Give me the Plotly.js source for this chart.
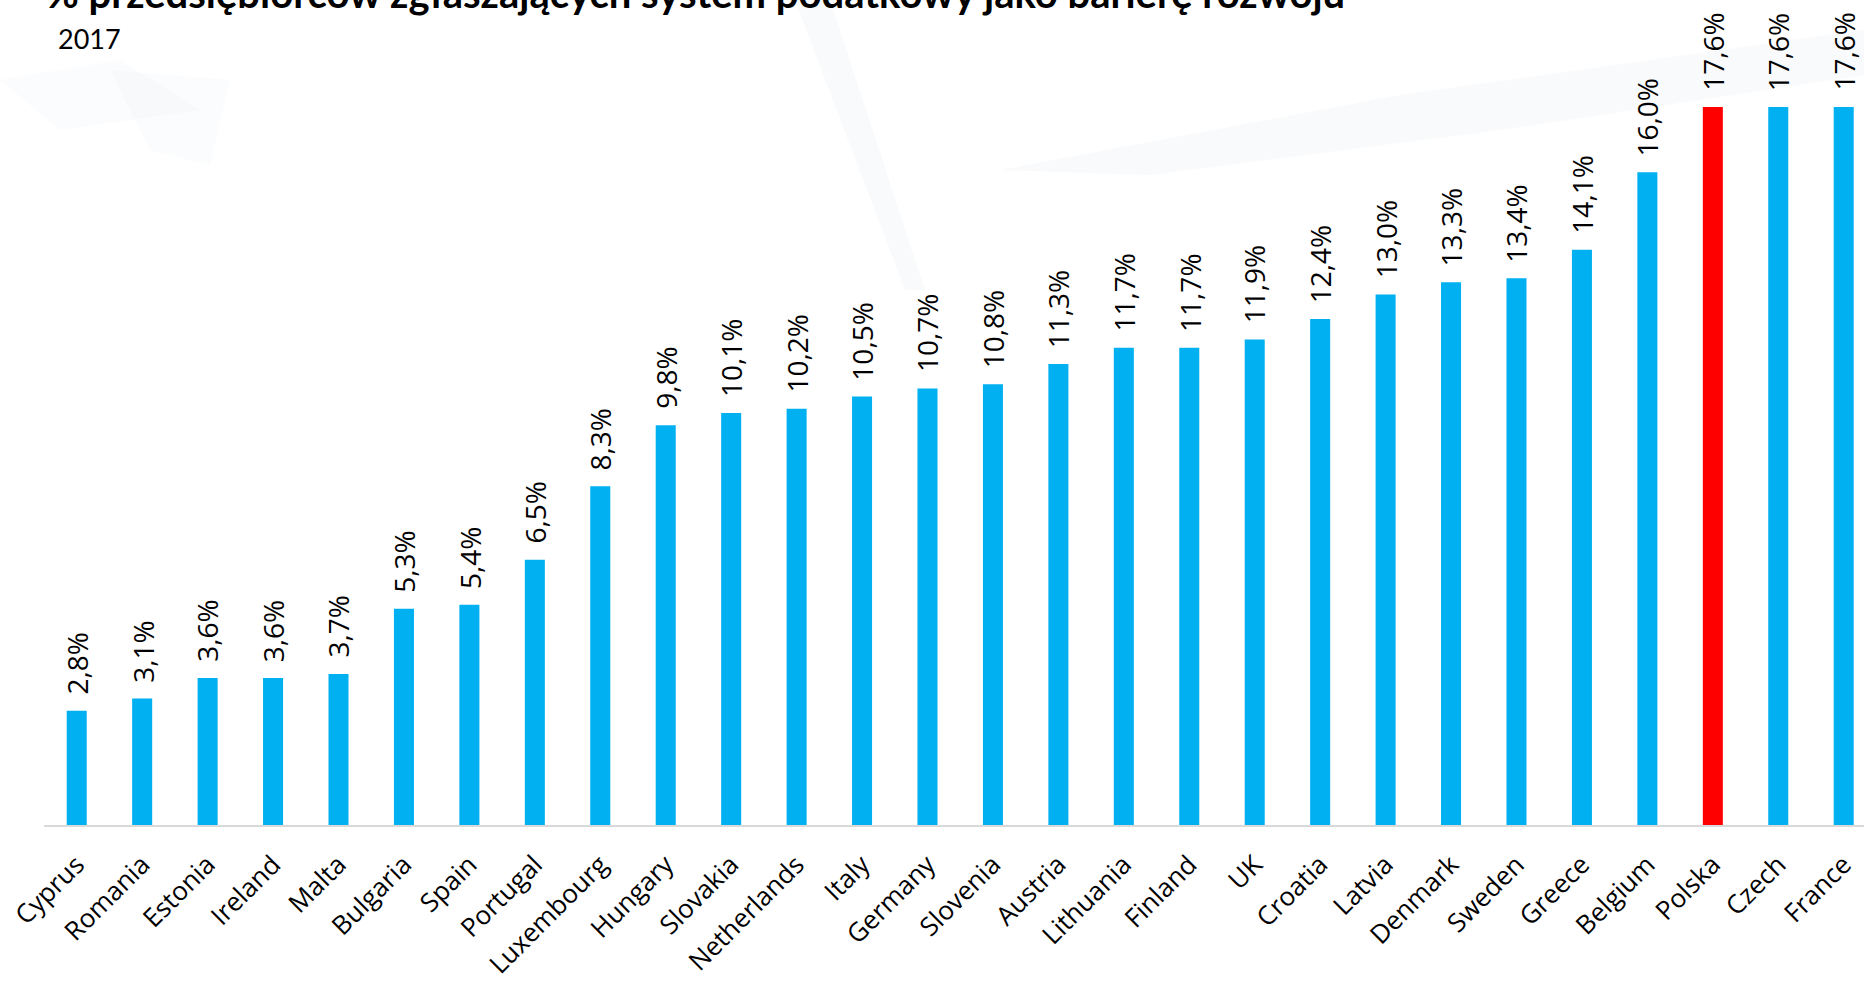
<!DOCTYPE html>
<html>
<head>
<meta charset="utf-8">
<script src="https://cdn.plot.ly/plotly-3.0.1.min.js"></script>
<style>
html,body{margin:0;padding:0;background:#ffffff;}
#chart{width:1864px;height:982px;}
</style>
</head>
<body>
<div id="chart"></div>
<script>
const categories = ['Cyprus','Romania','Estonia','Ireland','Malta','Bulgaria','Spain','Portugal','Luxembourg','Hungary','Slovakia','Netherlands','Italy','Germany','Slovenia','Austria','Lithuania','Finland','UK','Croatia','Latvia','Denmark','Sweden','Greece','Belgium','Polska','Czech','France'];
const values = [2.8,3.1,3.6,3.6,3.7,5.3,5.4,6.5,8.3,9.8,10.1,10.2,10.5,10.7,10.8,11.3,11.7,11.7,11.9,12.4,13.0,13.3,13.4,14.1,16.0,17.6,17.6,17.6];
const highlighted = ['Polska'];
const titleText = '% przedsiębiorców zgłaszających system podatkowy jako barierę rozwoju';
const subtitleText = '2017';

const W = 1864, H = 982, ML = 44, MB = 157;
const PW = W - ML, PH = H - MB;
function px(x){ return (x - ML) / PW; }
function py(y){ return (PH - y) / PH; }
function path(pts){ return 'M' + pts.map(p => px(p[0]).toFixed(4) + ',' + py(p[1]).toFixed(4)).join(' L') + ' Z'; }

const barColors = categories.map(c => highlighted.includes(c) ? '#FF0000' : '#00B0F0');

const trace = {
  type: 'bar',
  x: categories,
  y: values,
  width: 0.306,
  marker: {color: barColors, line: {width: 0}},
  hoverinfo: 'x+y'
};

const labelAnnotations = categories.map((c, i) => ({
  x: c, y: values[i], xref: 'x', yref: 'y',
  text: values[i].toFixed(1).replace('.', ',') + '%',
  textangle: -90, showarrow: false,
  xanchor: 'center', yanchor: 'bottom', yshift: 14,
  font: {family: 'Open Sans', size: 28, color: '#000000'}
}));

const faint = 'rgba(225,234,241,0.22)';
const fainter = 'rgba(225,234,241,0.14)';
const shapes = [
  {type:'path', xref:'paper', yref:'paper', layer:'below', line:{width:0}, fillcolor:faint,
   path: path([[1000,170],[1400,95],[1864,30],[1864,75],[1500,130],[1150,175]])},
  {type:'path', xref:'paper', yref:'paper', layer:'below', line:{width:0}, fillcolor:faint,
   path: path([[795,0],[830,0],[925,290],[905,290]])},
  {type:'path', xref:'paper', yref:'paper', layer:'below', line:{width:0}, fillcolor:fainter,
   path: path([[110,70],[230,80],[210,165],[150,150]])},
  {type:'path', xref:'paper', yref:'paper', layer:'below', line:{width:0}, fillcolor:fainter,
   path: path([[0,80],[120,60],[200,110],[60,130]])}
];

const layout = {
  width: W, height: H,
  margin: {l: ML, r: 0, t: 0, b: MB, pad: 0},
  paper_bgcolor: '#ffffff',
  plot_bgcolor: 'rgba(0,0,0,0)',
  showlegend: false,
  bargap: 0.7,
  xaxis: {
    type: 'category',
    range: [-0.5, 27.31],
    showgrid: false, zeroline: false,
    showline: true, linecolor: '#d9d9d9', linewidth: 2,
    ticks: '', tickangle: -45, ticklabelstandoff: 12,
    tickfont: {family: 'Open Sans', size: 26, color: '#000000'},
    fixedrange: true
  },
  yaxis: {
    range: [0, 20.22],
    visible: false, showgrid: false, zeroline: false,
    fixedrange: true
  },
  shapes: shapes,
  annotations: labelAnnotations.concat([
    {xref:'paper', yref:'paper', x: 0, y: 1, xanchor:'left', yanchor:'bottom',
     xshift: 0, yshift: -19, showarrow:false, text: '<b>' + titleText + '</b>',
     font:{family:'Lato', size:40, color:'#000000'}},
    {xref:'paper', yref:'paper', x: 0, y: 1, xanchor:'left', yanchor:'top',
     xshift: 12, yshift: -20, showarrow:false, text: subtitleText,
     font:{family:'Lato', size:27, color:'#000000'}}
  ])
};

Plotly.newPlot('chart', [trace], layout, {displayModeBar: false});
</script>
</body>
</html>
